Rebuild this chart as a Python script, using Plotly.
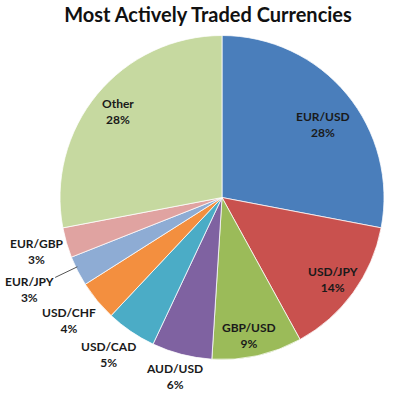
import math
import plotly.graph_objects as go

labels = ["EUR/USD", "USD/JPY", "GBP/USD", "AUD/USD", "USD/CAD", "USD/CHF", "EUR/JPY", "EUR/GBP", "Other"]
values = [28, 14, 9, 6, 5, 4, 3, 3, 28]
colors = ["#4A7EBB", "#C9514E", "#9BBB59", "#7F62A1", "#4BACC6", "#F38F3F", "#8EACD4", "#E0A3A1", "#C6D9A0"]

# label placement (layout only): radius as fraction of pie radius, angle tweak in degrees
label_radius = [0.77, 0.85, 0.87, 1.14, 1.20, 1.21, 1.32, 1.19, 0.83]
label_dangle = [3.5, 0.5, 1.4, 0.4, 1.7, 0.9, 1.4, -0.2, 0.0]
leader = [False, False, False, False, False, False, True, False, False]

cx, cy, r = 222, 197.5, 162
W, H = 400, 394

fig = go.Figure(go.Pie(
    labels=labels,
    values=values,
    sort=False,
    direction="clockwise",
    rotation=0,
    marker=dict(colors=colors, line=dict(color="rgba(255,255,255,0.75)", width=1)),
    textinfo="none",
    domain=dict(x=[(cx - r) / W, (cx + r) / W], y=[(H - cy - r) / H, (H - cy + r) / H]),
    showlegend=False,
    hoverinfo="skip",
))

total = sum(values)
cum = 0
font = dict(family="Lato", size=12, color="#1a1a1a", weight="bold")
for lab, v, rf, da, ld in zip(labels, values, label_radius, label_dangle, leader):
    mid = (cum + v / 2) / total * 360 + da
    cum += v
    a = math.radians(mid)
    px = cx + rf * r * math.sin(a)
    py = cy - rf * r * math.cos(a)
    txt = f"{lab}<br>{round(v / total * 100)}%"
    if ld:
        ex = cx + 0.99 * r * math.sin(a)
        ey = cy - 0.99 * r * math.cos(a)
        fig.add_annotation(x=ex / W, y=1 - ey / H, xref="paper", yref="paper",
                           ax=px - ex, ay=py - ey, axref="pixel", ayref="pixel",
                           text=txt, showarrow=True, arrowhead=0, arrowwidth=1,
                           arrowcolor="#555555", font=font, align="center")
    else:
        fig.add_annotation(x=px / W, y=1 - py / H, xref="paper", yref="paper",
                           text=txt, showarrow=False, font=font, align="center",
                           xanchor="center", yanchor="middle")

fig.update_layout(
    width=W, height=H,
    margin=dict(l=0, r=0, t=0, b=0),
    paper_bgcolor="white",
    title=dict(text="<b>Most Actively Traded Currencies</b>", x=0.52, xanchor="center",
               y=1 - 15 / H, yanchor="middle",
               font=dict(family="Lato", size=20, color="#111111")),
)

fig.write_html("out.html", config={"displayModeBar": False},
               post_script="document.body.style.margin='0px';")
